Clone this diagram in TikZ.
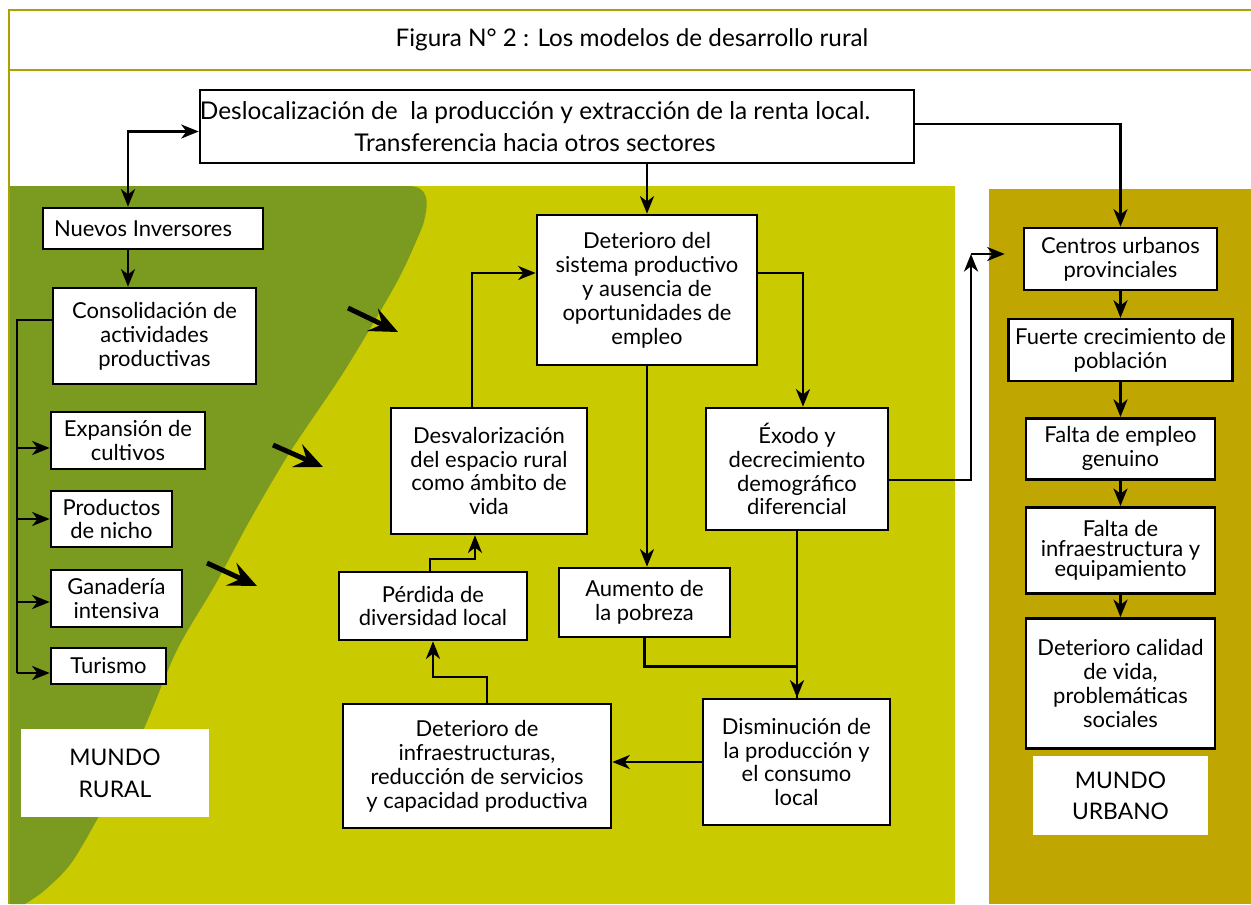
\documentclass[tikz,border=0pt]{standalone}
\usepackage{fontspec}
\setmainfont{Lato}
\usepackage{tikz}
\usetikzlibrary{positioning, arrows.meta}
\definecolor{ruralyel}{RGB}{202,202,0}
\definecolor{ruraldark}{RGB}{122,154,32}
\definecolor{urbanol}{RGB}{191,166,0}
\definecolor{frameol}{RGB}{170,162,0}

\begin{document}
\begin{tikzpicture}[x=0.02cm, y=-0.02cm, line width=1.35pt,
	>={Stealth[length=10pt,width=8pt,inset=3pt]},
	box/.style={draw, fill=white, line width=1.5pt, align=center, inner sep=2pt, font=\fontsize{12.5}{13.6}\selectfont},
	tag/.style={fill=white, align=center, font=\fontsize{13}{18}\selectfont},
	bigarrow/.style={line width=2.8pt, -{Stealth[length=16pt,width=14pt,inset=6pt]}}]
	\useasboundingbox (0,0) rectangle (1251,904);
	
	% fondos
	\fill[white] (0,0) rectangle (1251,904);
	\fill[ruralyel] (10,186) rectangle (955,904);
	\fill[urbanol] (989,189) rectangle (1251,904);
	\fill[ruraldark] (10,186) -- (408,186) .. controls (428,186) and (430,200) .. (423,225)
		-- plot[smooth] coordinates {(423,225) (398,280) (345,370) (290,452) (250,520) (215,585) (177,650) (142,733) (105,805) (72,862) (45,890) (25,904)}
		-- (10,904) -- cycle;
	\draw[frameol, line width=1.3pt] (9,904) -- (9,10) -- (1251,10);
	\draw[frameol, line width=1.3pt] (9,70) -- (1251,70);
	\node[font=\fontsize{13.8}{15}\selectfont] (ti) at (632,40) {Figura N° 2 : Los modelos de desarrollo rural};
	
	\node[box, minimum width=14.28cm, minimum height=1.46cm, font=\fontsize{13.9}{18}\selectfont] (t0) at (557,126.5) {\hspace*{-0.88cm}Deslocalización de~ la producción y extracción de la renta local.\\\hspace*{-0.88cm}Transferencia hacia otros sectores};
	
	% mundo rural
	\node[box, minimum width=4.4cm, minimum height=0.82cm] (r0) at (153,228.5) {\hspace*{-0.4cm}Nuevos Inversores};
	\node[box, minimum width=4.06cm, minimum height=1.92cm] (r1) at (154.5,336) {Consolidación de\\actividades\\productivas};
	\node[box, minimum width=3.08cm, minimum height=1.14cm] (r2) at (128,440.5) {Expansión de\\cultivos};
	\node[box, minimum width=2.42cm, minimum height=1.12cm] (r3) at (111.5,519) {Productos\\de nicho};
	\node[box, minimum width=2.62cm, minimum height=1.14cm] (r4) at (116.5,598.5) {Ganadería\\intensiva};
	\node[box, minimum width=2.3cm, minimum height=0.72cm] (r5) at (108.5,666) {Turismo};
	\node[tag, minimum width=3.76cm, minimum height=1.76cm] (lr) at (115,773) {MUNDO\\RURAL};
	
	% centro
	\node[box, minimum width=4.4cm, minimum height=3cm] (m0) at (647,290) {Deterioro del\\sistema productivo\\y ausencia de\\oportunidades de\\empleo};
	\node[box, minimum width=3.92cm, minimum height=2.52cm] (m1) at (489,471) {Desvalorización\\del espacio rural\\como ámbito de\\vida};
	\node[box, minimum width=3.64cm, minimum height=2.44cm] (m2) at (797,469) {Éxodo y\\decrecimiento\\demográfico\\diferencial};
	\node[box, minimum width=3.76cm, minimum height=1.36cm] (m3) at (433,606) {Pérdida de\\diversidad local};
	\node[box, minimum width=3.42cm, minimum height=1.38cm] (m4) at (644.5,602.5) {Aumento de\\la pobreza};
	\node[box, minimum width=5.36cm, minimum height=2.48cm] (m5) at (477,766) {Deterioro de\\infraestructuras,\\reducción de servicios\\y capacidad productiva};
	\node[box, minimum width=3.74cm, minimum height=2.52cm] (m6) at (796.5,762) {Disminución de\\la producción y\\el consumo\\local};
	
	% mundo urbano
	\node[box, minimum width=3.86cm, minimum height=1.24cm] (u0) at (1120.5,259) {Centros urbanos\\provinciales};
	\node[box, minimum width=4.48cm, minimum height=1.24cm, below=0.53cm of u0] (u1) {Fuerte crecimiento de\\población};
	\node[box, minimum width=3.78cm, minimum height=1.22cm, below=0.69cm of u1] (u2) {Falta de empleo\\genuino};
	\node[box, minimum width=3.78cm, minimum height=1.72cm, below=0.51cm of u2, font=\fontsize{12.5}{11.4}\selectfont] (u3) {Falta de\\infraestructura y\\equipamiento};
	\node[box, minimum width=3.78cm, minimum height=2.6cm, below=0.45cm of u3] (u4) {Deterioro calidad\\de vida,\\problemáticas\\sociales};
	\node[tag, minimum width=3.5cm, minimum height=1.58cm, below=0.11cm of u4] (lu) {MUNDO\\URBANO};
	
	\coordinate (bus) at (17,320);
	\coordinate (c1) at (971,254);
	\coordinate (a0) at (348,308); \coordinate (a1) at (398,332);
	\coordinate (a2) at (273,445); \coordinate (a3) at (323,467);
	\coordinate (a4) at (207,563); \coordinate (a5) at (257,586);
	
	\draw[<->] ([yshift=-0.1cm]t0.west) -| ([xshift=-0.5cm]r0.north);
	\draw[->] ([xshift=-0.5cm]r0.south) -- ([xshift=-0.5cm]r0.south |- r1.north);
	\draw ([yshift=0.32cm]r1.west) -| ([yshift=-0.14cm]bus |- r5.west);
	\foreach \n/\s in {r2/-0.15,r3/0,r4/-0.07,r5/-0.14}
		\draw[->] ([yshift=\s cm]bus |- \n.west) -- ([yshift=\s cm]\n.west);
	
	\draw[->] (t0.south -| m0.north) -- (m0.north);
	\draw[->] ([yshift=0.05cm]t0.east) -| (u0.north);
	\draw[->] ([xshift=-0.34cm]m1.north) |- ([yshift=0.34cm]m0.west);
	\draw[->] ([yshift=0.34cm]m0.east) -| ([xshift=0.12cm]m2.north);
	\draw[->] (m0.south) -- (m0.south |- m4.north);
	\draw[->] (m2.south) -- (m2.south |- m6.north);
	\draw (m4.south) -- ++(0,-0.56cm) -| (m2.south |- m6.north);
	\draw[->] (m6.west) -- (m5.east |- m6.west);
	\draw[->] ([xshift=0.2cm]m5.north) -- ++(0,0.52cm) -| (m3.south);
	\draw[->] ([xshift=-0.06cm]m3.north) -- ++(0,0.24cm) -| ([xshift=-0.28cm]m1.south);
	\draw[->] ([yshift=-0.22cm]m2.east) -| (c1);
	\draw[->, shorten >=0.36cm] (c1) -- (c1 -| u0.west);
	
	\draw (u0) edge[->] (u1);
	\draw (u1) edge[->] (u2);
	\draw (u2) edge[->] (u3);
	\draw (u3) edge[->] (u4);
	
	\draw[bigarrow] (a0) -- (a1);
	\draw[bigarrow] (a2) -- (a3);
	\draw[bigarrow] (a4) -- (a5);
	
\end{tikzpicture}
\end{document}
